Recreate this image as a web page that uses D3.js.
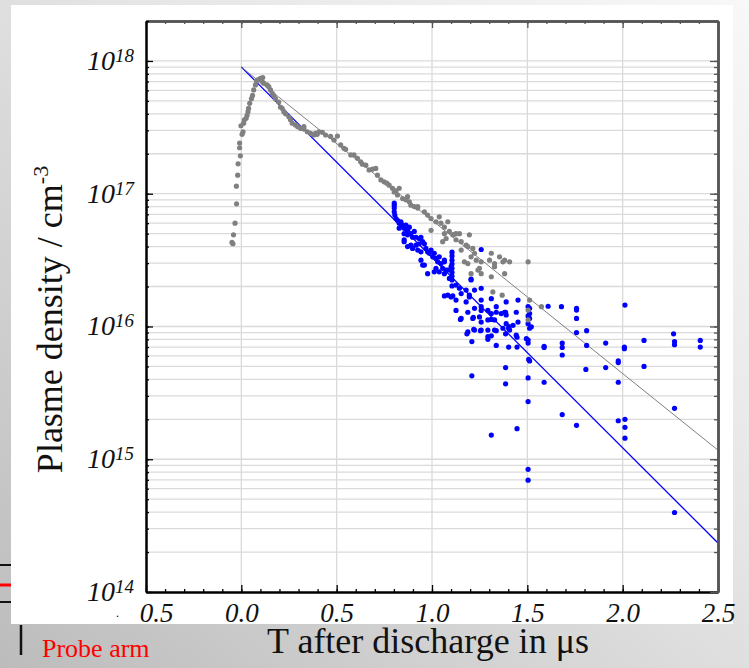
<!DOCTYPE html>
<html>
<head>
<meta charset="UTF-8">
<script src="https://cdn.jsdelivr.net/npm/d3@7"></script>
<style>
body{ margin:0; overflow:hidden; font-family:"Liberation Serif","Times New Roman",serif; }
.grid line{ stroke:#dadada; stroke-width:1.3; }
.axis text{ font-family:"Liberation Serif",serif; font-style:italic; font-size:27px; fill:#111; }
</style>
</head>
<body>
<script>
// time after discharge (us), density (cm^-3)
var grayPoints = [
 [-0.044,4.2e16],[-0.049,4.3e16],[-0.041,4.9e16],[-0.033,6.0e16],[-0.025,8.4e16],[-0.026,1.14e17],
 [-0.019,1.38e17],[-0.017,1.68e17],[-0.005,1.93e17],[-0.009,2.22e17],[-0.009,2.41e17],[0.004,2.8e17],
 [0.009,2.93e17],[-0.002,3.25e17],[0.012,3.4e17],[0.016,3.6e17],[0.025,3.7e17],[0.03,3.9e17],
 [0.035,4.15e17],[0.038,4.4e17],[0.044,4.8e17],[0.053,5.2e17],[0.059,5.5e17],[0.065,6.05e17],
 [0.074,6.6e17],[0.079,7.07e17],[0.086,7.2e17],[0.1,7.4e17],[0.112,7.5e17],[0.109,7.0e17],
 [0.117,6.8e17],[0.135,6.6e17],[0.144,6.4e17],[0.153,6.05e17],[0.162,5.7e17],[0.17,5.5e17],
 [0.179,5.2e17],[0.196,4.9e17],[0.205,4.5e17],[0.214,4.4e17],[0.223,4.15e17],[0.232,4.0e17],
 [0.249,3.8e17],[0.258,3.6e17],[0.267,3.4e17],[0.284,3.3e17],[0.296,3.2e17],[0.311,3.1e17],
 [0.328,3.07e17],[0.346,2.93e17],[0.363,2.85e17],[0.381,2.77e17],[0.398,2.8e17],[0.328,3.2e17],
 [0.389,2.85e17],[0.407,2.93e17],[0.425,2.9e17],[0.442,2.77e17],[0.468,2.7e17],[0.486,2.54e17],
 [0.504,2.72e17],[0.521,2.33e17],[0.538,2.2e17],[0.547,2.16e17],[0.574,1.96e17],[0.591,1.96e17],
 [0.609,1.85e17],[0.626,1.74e17],[0.635,1.67e17],[0.653,1.64e17],[0.67,1.51e17],[0.688,1.53e17],
 [0.705,1.55e17],[0.714,1.38e17],[0.732,1.27e17],[0.749,1.23e17],[0.763,1.2e17],[0.775,1.16e17],
 [0.793,1.1e17],[0.811,1.05e17],[0.828,1.1e17],[0.819,9.8e16],[0.846,9.2e16],[0.872,9.5e16],
 [0.881,8.7e16],[0.889,8.2e16],[0.907,8.0e16],[0.925,8.0e16],[0.802,1.03e17],[0.863,9.0e16],
 [0.925,7.8e16],[0.96,7.3e16],[0.977,6.9e16],[0.995,6.5e16],[0.995,5.3e16],[1.021,6.15e16],
 [1.038,6.7e16],[1.047,6.0e16],[1.065,5.6e16],[1.083,6.15e16],[1.091,5.2e16],[1.109,4.9e16],
 [1.126,5.0e16],[1.144,5.0e16],[1.056,4.35e16],[1.074,4.6e16],[1.153,4.35e16],[1.179,4.1e16],
 [1.196,4.9e16],[1.188,4.0e16],[1.223,3.56e16],[1.205,3.35e16],[1.232,3.16e16],[1.241,2.66e16],
 [1.153,3.76e16],[1.065,5.0e16],[1.117,4.95e16],[1.126,4.5e16],[1.17,3.07e16],[1.188,2.98e16],
 [1.214,3.87e16],[1.249,2.74e16],[1.258,3.07e16],[1.205,2.5e16],[1.258,2.5e16],[1.311,3.56e16],
 [1.302,3.16e16],[1.328,2.98e16],[1.354,3.35e16],[1.381,3.16e16],[1.407,3.07e16],[1.372,3.07e16],
 [1.381,2.5e16],[1.311,2.37e16],[1.328,2.82e16],[1.504,3.07e16],[1.319,1.82e16],[1.368,1.72e16],
 [1.512,1.58e16],[1.574,1.41e16],[1.504,1.33e16],[1.504,1.12e16]
];

var bluePoints = [
 [0.802,8.2e16],[0.802,7.8e16],[0.802,7.3e16],[0.802,8.5e16],[0.805,6.9e16],[0.811,6.5e16],
 [0.819,6.3e16],[0.828,6.0e16],[0.837,6.15e16],[0.846,5.8e16],[0.828,5.5e16],[0.854,5.5e16],
 [0.863,5.8e16],[0.872,5.3e16],[0.881,5.6e16],[0.854,5.0e16],[0.872,4.9e16],[0.889,5.0e16],
 [0.898,4.7e16],[0.907,5.2e16],[0.916,4.7e16],[0.933,4.6e16],[0.942,4.7e16],[0.951,4.35e16],
 [0.933,4.2e16],[0.854,4.35e16],[0.872,4.0e16],[0.898,3.87e16],[0.916,4.1e16],[0.925,3.76e16],
 [0.942,3.65e16],[0.96,4.2e16],[0.968,3.87e16],[0.977,3.65e16],[0.986,3.56e16],[0.995,3.76e16],
 [1.012,3.56e16],[1.004,3.35e16],[1.021,3.26e16],[1.038,3.35e16],[1.03,3.07e16],[1.047,2.98e16],
 [1.065,3.07e16],[1.056,2.74e16],[1.074,2.66e16],[0.942,3.16e16],[0.96,2.9e16],[0.977,2.5e16],
 [1.012,2.58e16],[1.038,2.58e16],[0.854,4.5e16],[0.889,4.1e16],[0.951,2.9e16],[1.021,2.74e16],
 [1.083,2.66e16],[1.1,2.82e16],
 [1.105,3.63e16],[1.105,3.4e16],[1.105,3.16e16],[1.105,2.95e16],[1.105,2.74e16],[1.105,2.56e16],
 [1.105,2.4e16],[1.105,2.24e16],[1.105,2.02e16],
 [1.091,2.3e16],[1.126,2.05e16],[1.144,1.94e16],[1.153,1.77e16],[1.179,1.88e16],[1.196,1.67e16],
 [1.205,2.27e16],[1.065,1.7e16],[1.109,1.7e16],[1.223,1.88e16],[1.258,3.8e16],[1.065,3.16e16],
 [1.065,2.5e16],[1.205,2.24e16],[1.258,1.94e16],[1.083,1.72e16],[1.1,1.67e16],[1.126,1.58e16],
 [1.179,1.53e16],[1.196,1.72e16],[1.258,1.58e16],[1.311,1.62e16],[1.389,1.53e16],[1.451,1.58e16],
 [1.126,1.32e16],[1.188,1.28e16],[1.223,1.37e16],[1.258,1.32e16],[1.293,1.32e16],[1.311,1.25e16],
 [1.337,1.28e16],[1.381,1.28e16],[1.389,1.22e16],[1.442,1.28e16],[1.512,1.37e16],[1.512,1.25e16],
 [1.512,1.15e16],[1.521,9.95e15],[1.153,1.15e16],[1.214,1.15e16],[1.249,1.18e16],[1.258,1.08e16],
 [1.293,1.12e16],[1.328,1.12e16],[1.363,1.25e16],[1.389,1.05e16],[1.425,1.02e16],[1.451,1.08e16],
 [1.188,9.1e15],[1.223,9.4e15],[1.258,9.4e15],[1.293,9.4e15],[1.328,9.4e15],[1.372,9.7e15],
 [1.407,9.4e15],[1.442,8.6e15],[1.495,8.1e15],[1.293,8.4e15],
 [1.609,1.42e16],[1.679,1.41e16],[1.758,1.37e16],[1.758,1.33e16],[2.012,1.45e16],[1.311,1.13e16],
 [1.217,1.17e16],[1.149,1.13e16],[1.758,1.15e16],[1.219,9.5e15],[1.254,9.3e15],[1.386,8.8e15],
 [1.404,1.0e16],[1.446,8.3e15],[1.183,8.8e15],[1.209,7.7e15],[1.293,8.0e15],[1.311,8.5e15],
 [1.504,7.9e15],[1.504,7.5e15],[1.758,9.0e15],[1.811,9.3e15],[2.267,8.8e15],[1.337,7.2e15],
 [1.402,7.0e15],[1.446,7.0e15],[1.588,7.1e15],[1.588,6.95e15],[1.683,7.5e15],[1.683,6.95e15],
 [1.811,7.2e15],[1.911,7.5e15],[2.009,7.0e15],[2.009,6.8e15],[2.112,7.85e15],[2.272,7.7e15],
 [2.272,7.3e15],[2.407,7.85e15],[2.407,7.0e15],[1.507,5.65e15],[1.512,5.5e15],[1.683,6.1e15],
 [1.386,4.9e15],[1.807,4.75e15],[1.911,4.9e15],[1.977,5.5e15],[1.977,5.35e15],[2.112,5.0e15],
 [1.209,4.25e15],[1.386,3.7e15],[1.504,4.1e15],[1.588,3.8e15],[1.977,3.8e15],[1.504,2.72e15],
 [1.683,2.17e15],[1.758,1.8e15],[1.446,1.7e15],[1.311,1.52e15],[1.977,1.95e15],[2.012,2.0e15],
 [2.012,1.74e15],[2.012,1.44e15],[2.272,2.42e15],[1.504,8.4e14],[1.504,6.95e14],[2.272,3.97e14],
 [1.504,1.41e16],[1.504,1.2e16],[1.504,1.05e16],[1.512,9.7e15],[1.258,1.41e16],[1.337,1.41e16],
 [1.386,1.28e16],[1.337,9.3e15],[1.402,9.7e15]
];

// fitted decay lines, endpoints
var fitT = [0, 2.5];
var grayFit = [9.0e17, 1.17e15];
var blueFit = [9.0e17, 2.34e14];

var xTicks = [-0.5, 0, 0.5, 1.0, 1.5, 2.0, 2.5];
var yExps = [14, 15, 16, 17, 18];

var W = 749, H = 668;
var margin = {left:146, right:31, top:21, bottom:76};
var pw = W - margin.left - margin.right, ph = H - margin.top - margin.bottom;

var x = d3.scaleLinear().domain([-0.5, 2.5]).range([margin.left, margin.left + pw]);
var y = d3.scaleLog().domain([1e14, 2e18]).range([margin.top + ph, margin.top]);

var svg = d3.select("body").append("svg").attr("width", W).attr("height", H);

var grad = svg.append("defs").append("linearGradient").attr("id","bg")
    .attr("x1","0").attr("y1","1").attr("x2","1").attr("y2","0");
grad.append("stop").attr("offset","0").attr("stop-color","#bcbcbc");
grad.append("stop").attr("offset","0.6").attr("stop-color","#e6e6e6");
grad.append("stop").attr("offset","1").attr("stop-color","#f8f8f8");
svg.append("rect").attr("width",W).attr("height",H).attr("fill","url(#bg)");
svg.append("rect").attr("x",11).attr("y",5).attr("width",722).attr("height",619).attr("fill","white");

// slide leftovers
svg.append("line").attr("x1",0).attr("x2",11).attr("y1",565).attr("y2",565).attr("stroke","#111").attr("stroke-width",2);
svg.append("line").attr("x1",0).attr("x2",11).attr("y1",602).attr("y2",602).attr("stroke","#111").attr("stroke-width",2);
svg.append("line").attr("x1",0).attr("x2",11).attr("y1",585).attr("y2",585).attr("stroke","red").attr("stroke-width",3);
svg.append("line").attr("x1",21).attr("x2",21).attr("y1",625).attr("y2",655).attr("stroke","#111").attr("stroke-width",2.5);
svg.append("text").attr("x",42).attr("y",657).attr("fill","red").attr("font-size",26).text("Probe arm");

// minor values for log grid
var yMinor = [];
for (var e = 14; e <= 18; e++) for (var m = 1; m <= 9; m++) {
  var v = m * Math.pow(10, e);
  if (v <= 2e18) yMinor.push(v);
}
var xMinor = d3.range(-5, 26).map(function(i){ return i / 10; });

var grid = svg.append("g").attr("class","grid");
grid.selectAll(".h").data(yMinor.filter(function(v){ return v > 1e14 && v < 2e18; }))
  .enter().append("line")
  .attr("x1", margin.left).attr("x2", margin.left + pw)
  .attr("y1", function(d){ return y(d); }).attr("y2", function(d){ return y(d); });
grid.selectAll(".v").data(xTicks.slice(1, -1))
  .enter().append("line")
  .attr("y1", margin.top).attr("y2", margin.top + ph)
  .attr("x1", function(d){ return x(d); }).attr("x2", function(d){ return x(d); });

// fit lines
svg.append("line").attr("x1",x(fitT[0])).attr("x2",x(fitT[1]))
  .attr("y1",y(blueFit[0])).attr("y2",y(blueFit[1])).attr("stroke","#0000ff").attr("stroke-width",1.3);
svg.append("line").attr("x1",x(fitT[0])).attr("x2",x(fitT[1]))
  .attr("y1",y(grayFit[0])).attr("y2",y(grayFit[1])).attr("stroke","#7f7f7f").attr("stroke-width",1);

svg.append("g").selectAll("circle").data(bluePoints).enter().append("circle")
  .attr("cx", function(d){ return x(d[0]); }).attr("cy", function(d){ return y(d[1]); })
  .attr("r", 2.6).attr("fill", "#0000ff");
svg.append("g").selectAll("circle").data(grayPoints).enter().append("circle")
  .attr("cx", function(d){ return x(d[0]); }).attr("cy", function(d){ return y(d[1]); })
  .attr("r", 2.6).attr("fill", "#808080");

// axes
function styleAxis(g, col, w){
  g.select(".domain").attr("stroke", col).attr("stroke-width", w);
  g.selectAll(".tick line").attr("stroke", col).attr("stroke-width", 1.3);
}
var bottomY = margin.top + ph, rightX = margin.left + pw;

svg.append("g").attr("class","axis").attr("transform","translate(0,"+bottomY+")")
  .call(d3.axisBottom(x).tickValues(xMinor).tickSize(-3).tickSizeOuter(0).tickFormat(""))
  .call(styleAxis, "#000", 2);
var xb = svg.append("g").attr("class","axis").attr("transform","translate(0,"+bottomY+")")
  .call(d3.axisBottom(x).tickValues(xTicks).tickSize(-7).tickSizeOuter(0).tickPadding(11)
    .tickFormat(function(d){ return d3.format(".1f")(Math.abs(d)); }))
  .call(styleAxis, "#000", 2);
xb.selectAll(".tick text").filter(function(d){ return d < 0; }).attr("x", 10);
svg.append("text").attr("x", x(-0.5) - 30).attr("y", 617).attr("font-size", 12).text(".");

svg.append("g").attr("class","axis").attr("transform","translate(0,"+margin.top+")")
  .call(d3.axisTop(x).tickValues(xMinor).tickSize(-3).tickSizeOuter(0).tickFormat(""))
  .call(styleAxis, "#555", 2.5);
svg.append("g").attr("class","axis").attr("transform","translate(0,"+margin.top+")")
  .call(d3.axisTop(x).tickValues(xTicks).tickSize(-7).tickSizeOuter(0).tickFormat(""))
  .call(styleAxis, "#555", 2.5);

var yMajor = yExps.map(function(e){ return Math.pow(10, e); });
svg.append("g").attr("class","axis").attr("transform","translate("+margin.left+",0)")
  .call(d3.axisLeft(y).tickValues(yMinor).tickSize(-3).tickSizeOuter(0).tickFormat(""))
  .call(styleAxis, "#000", 2);
svg.append("g").attr("class","axis").attr("transform","translate("+margin.left+",0)")
  .call(d3.axisLeft(y).tickValues(yMajor).tickSize(-7).tickSizeOuter(0).tickFormat(""))
  .call(styleAxis, "#000", 2);
svg.append("g").attr("class","axis").attr("transform","translate("+rightX+",0)")
  .call(d3.axisRight(y).tickValues(yMinor).tickSize(-4).tickSizeOuter(0).tickFormat(""))
  .call(styleAxis, "#555", 2.5);
svg.append("g").attr("class","axis").attr("transform","translate("+rightX+",0)")
  .call(d3.axisRight(y).tickValues(yMajor).tickSize(-8).tickSizeOuter(0).tickFormat(""))
  .call(styleAxis, "#555", 2.5);

var yl = svg.append("g").selectAll("text").data(yExps).enter().append("text")
  .attr("x", 134).attr("y", function(e){ return y(Math.pow(10, e)) + 9; })
  .attr("text-anchor","end").attr("font-style","italic").attr("font-size",28).attr("fill","#111");
yl.append("tspan").text("10");
yl.append("tspan").attr("dy",-8).attr("font-size",19).text(function(e){ return e; });

// titles
var yt = svg.append("text").attr("transform","translate(62,"+(margin.top + ph/2 + 13)+") rotate(-90)")
  .attr("text-anchor","middle").attr("font-size",36).attr("fill","#111");
yt.append("tspan").text("Plasme density / cm");
yt.append("tspan").attr("dy",-14).attr("font-size",22).text("-3");

svg.append("text").attr("x", 428).attr("y", 653).attr("text-anchor","middle")
  .attr("font-size",36).attr("fill","#111").text("T after discharge in \u03bcs");
</script>
</body>
</html>
